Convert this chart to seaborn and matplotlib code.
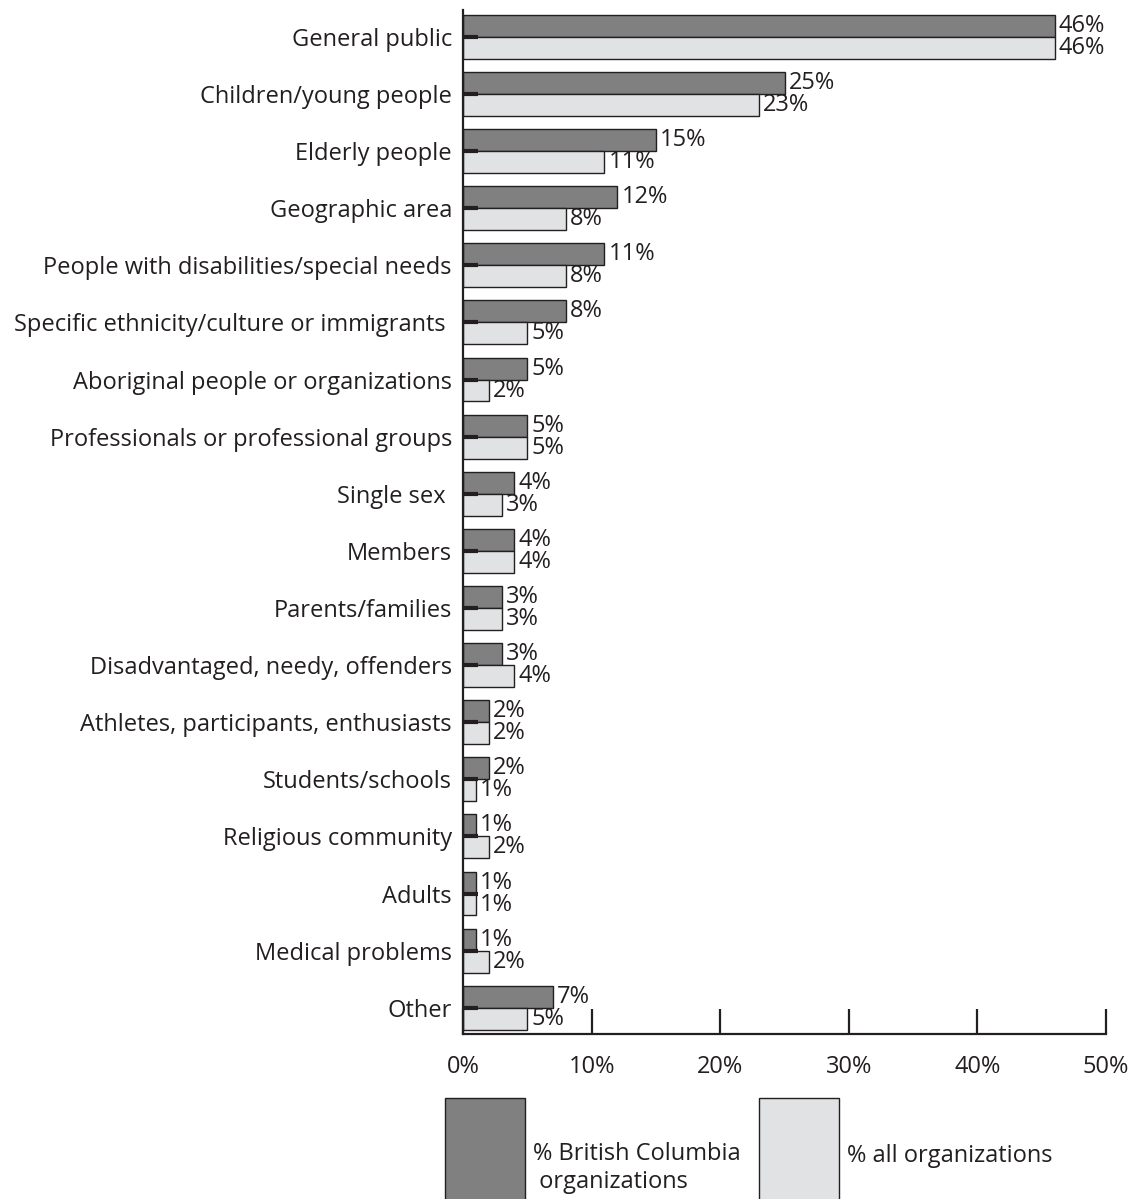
import pandas as pd
import seaborn as sns
import matplotlib.pyplot as plt

categories = [
    'General public', 'Children/young people', 'Elderly people', 'Geographic area',
    'People with disabilities/special needs', 'Specific ethnicity/culture or immigrants ',
    'Aboriginal people or organizations', 'Professionals or professional groups',
    'Single sex ', 'Members', 'Parents/families', 'Disadvantaged, needy, offenders',
    'Athletes, participants, enthusiasts', 'Students/schools', 'Religious community',
    'Adults', 'Medical problems', 'Other',
]
bc_pct = [46, 25, 15, 12, 11, 8, 5, 5, 4, 4, 3, 3, 2, 2, 1, 1, 1, 7]
all_pct = [46, 23, 11, 8, 8, 5, 2, 5, 3, 4, 3, 4, 2, 1, 2, 1, 2, 5]
series = ['% British Columbia\n organizations', '% all organizations']
x_ticks = [0, 10, 20, 30, 40, 50]

df = pd.DataFrame({
    'category': categories * 2,
    'pct': bc_pct + all_pct,
    'series': [series[0]] * len(categories) + [series[1]] * len(categories),
})

sns.set_style('white')
plt.rcParams['font.family'] = ['Open Sans', 'DejaVu Sans']
fs = 17
em = fs * 100 / 72
ink = '#231f20'

fig = plt.figure(figsize=(11.35, 11.99), dpi=100)
ax = fig.add_axes([463 / 1135, 165 / 1199, (1106 - 463) / 1135, 1024 / 1199])

sns.barplot(data=df, y='category', x='pct', hue='series', orient='h',
            palette=['#808080', '#e1e2e4'], saturation=1, width=0.77,
            edgecolor=ink, linewidth=1, ax=ax)

for cont in ax.containers:
    ax.bar_label(cont, labels=[f'{v:g}%' for v in cont.datavalues],
                 padding=3, fontsize=fs, color=ink)

ax.set_axisbelow(False)
ax.set_xlim(0, 50)
ax.set_ylim(len(categories) - 1 + 0.46, -0.47)
ax.set_xticks(x_ticks)
ax.set_xticklabels([f'{t}%' for t in x_ticks])
ax.set_xlabel('')
ax.set_ylabel('')
ax.tick_params(axis='x', direction='in', length=18, width=1.6, color=ink,
               pad=15, labelsize=fs, labelcolor=ink, bottom=True)
ax.tick_params(axis='y', direction='in', length=11, width=3, color=ink,
               pad=8, labelsize=fs, labelcolor=ink, left=True)
sns.despine(ax=ax)
for s in ['left', 'bottom']:
    ax.spines[s].set_color(ink)
    ax.spines[s].set_linewidth(1.6)

handles, _ = ax.get_legend_handles_labels()
leg = ax.legend(handles, series, loc='upper left', ncol=2, frameon=False,
                bbox_to_anchor=(445 / 1135, 1 - 1098 / 1199), bbox_transform=fig.transFigure,
                fontsize=fs, handlelength=80 / em, handleheight=8.1, handletextpad=0.34,
                columnspacing=0.76, borderpad=0, borderaxespad=0, labelcolor=ink)
# nudge legend texts to sit like the reference
leg.get_texts()[0].set_y(-10)
leg.get_texts()[1].set_y(5)

fig.savefig('out.png', dpi=100)
